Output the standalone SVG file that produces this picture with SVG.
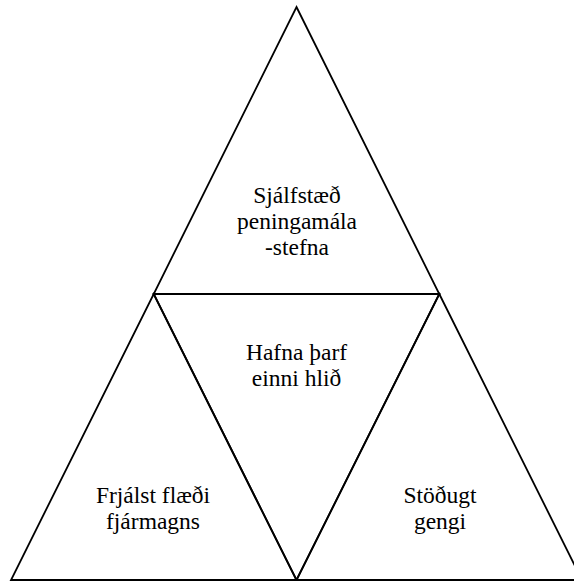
<svg xmlns="http://www.w3.org/2000/svg" width="574" height="581" viewBox="0 0 574 581">
<style>
.tri{fill:none;stroke:#000;stroke-width:1.8;stroke-linejoin:miter}
.lbl{font-family:'Liberation Serif','Times New Roman','DejaVu Serif',serif;font-size:23.5px;fill:#000;text-anchor:middle}
</style>
<rect width="574" height="581" fill="#fff"/>
<g id="top">
<polygon class="tri" points="296.5,7 439.3,294 153.7,294"/>
<text class="lbl" x="297" y="203">Sjálfstæð</text>
<text class="lbl" x="297" y="229">peningamála</text>
<text class="lbl" x="297" y="255">-stefna</text>
</g>
<g id="middle">
<polygon class="tri" points="153.7,294 439.3,294 296.5,580"/>
<text class="lbl" x="296.5" y="360">Hafna þarf</text>
<text class="lbl" x="296.5" y="386">einni hlið</text>
</g>
<g id="left">
<polygon class="tri" points="153.7,294 296.5,580 11,580"/>
<text class="lbl" x="153" y="503">Frjálst flæði</text>
<text class="lbl" x="153" y="529">fjármagns</text>
</g>
<g id="right">
<polygon class="tri" points="439.3,294 582,580 296.5,580"/>
<text class="lbl" x="440" y="503">Stöðugt</text>
<text class="lbl" x="440" y="529">gengi</text>
</g>
</svg>
